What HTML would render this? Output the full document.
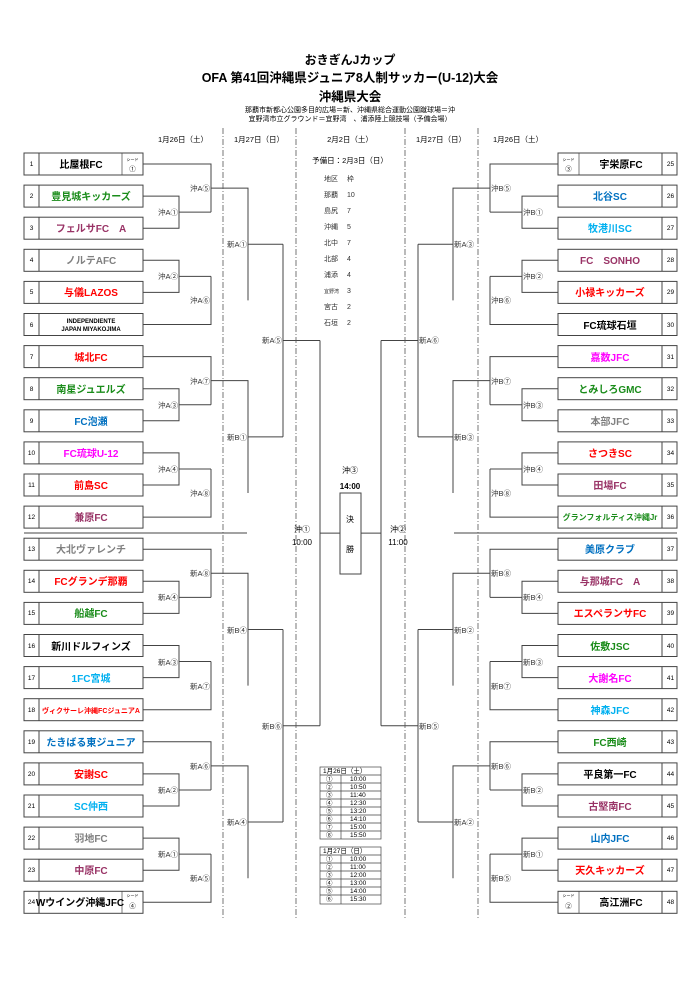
<!DOCTYPE html>
<html><head><meta charset="utf-8"><style>
html,body{margin:0;padding:0;background:#fff}
svg{display:block;font-family:"Liberation Sans","Noto Sans CJK JP",sans-serif}
.t{font-size:10px;font-weight:bold;text-anchor:middle}
.n{font-size:6.5px;text-anchor:middle}
.l{font-size:7.5px;text-anchor:end;fill:#333}
.r{font-size:7.5px;text-anchor:start;fill:#333}
.c{font-size:7px;fill:#333}
.g{fill:#1a8c1a}.p{fill:#993366}.y{fill:#808080}.rd{fill:#ff0000}.b{fill:#0070c0}.cy{fill:#00b0f0}.m{fill:#ff00ff}
</style></head><body>
<svg width="700" height="989" viewBox="0 0 700 989" xmlns="http://www.w3.org/2000/svg">
<defs>
<path id="blk" fill="none" stroke="#444" stroke-width="1" d="M143 0H211V48.15M143 32.1H179V64.2H143M179 48.15H211M143 160.5H211V112.35M143 96.3H179V128.4H143M179 112.35H211M211 24.075H248V136.425M248 80.25H283"/>
<g id="bx" fill="none" stroke="#444" stroke-width="1"><rect x="24" y="-11" width="119" height="22"/><line x1="39" y1="-11" x2="39" y2="11"/></g>
<g id="half">
<use href="#blk" transform="translate(0,164)"/>
<use href="#blk" transform="translate(0,356.6)"/>
<use href="#blk" transform="translate(0,549.2)"/>
<use href="#blk" transform="translate(0,741.8)"/>
<path fill="none" stroke="#444" d="M283 244.25V436.85M283 340.55H320M283 629.45V822.05M283 725.75H320M320 340.55V725.75M320 533.15H340M24 533H247"/>
<use href="#bx" transform="translate(0,164)"/><use href="#bx" transform="translate(0,196.1)"/><use href="#bx" transform="translate(0,228.2)"/><use href="#bx" transform="translate(0,260.3)"/><use href="#bx" transform="translate(0,292.4)"/><use href="#bx" transform="translate(0,324.5)"/><use href="#bx" transform="translate(0,356.6)"/><use href="#bx" transform="translate(0,388.7)"/><use href="#bx" transform="translate(0,420.8)"/><use href="#bx" transform="translate(0,452.9)"/><use href="#bx" transform="translate(0,485)"/><use href="#bx" transform="translate(0,517.1)"/><use href="#bx" transform="translate(0,549.2)"/><use href="#bx" transform="translate(0,581.3)"/><use href="#bx" transform="translate(0,613.4)"/><use href="#bx" transform="translate(0,645.5)"/><use href="#bx" transform="translate(0,677.6)"/><use href="#bx" transform="translate(0,709.7)"/><use href="#bx" transform="translate(0,741.8)"/><use href="#bx" transform="translate(0,773.9)"/><use href="#bx" transform="translate(0,806)"/><use href="#bx" transform="translate(0,838.1)"/><use href="#bx" transform="translate(0,870.2)"/><use href="#bx" transform="translate(0,902.3)"/>
<path fill="none" stroke="#444" stroke-width="0.7" d="M122 153V175M122 891V913"/>
</g>
</defs>
<use href="#half"/>
<use href="#half" transform="matrix(-1 0 0 1 701 0)"/>
<rect x="340" y="493" width="21" height="81" fill="none" stroke="#444"/>
<g stroke="#555" stroke-width="0.8" stroke-dasharray="6 2 1 2"><line x1="223" y1="128" x2="223" y2="920"/><line x1="296" y1="128" x2="296" y2="920"/><line x1="405" y1="128" x2="405" y2="920"/><line x1="478" y1="128" x2="478" y2="920"/></g>

<text x="350" y="64" style="font-size:12px;font-weight:bold;text-anchor:middle">おきぎんJカップ</text>
<text x="350" y="82" style="font-size:12.5px;font-weight:bold;text-anchor:middle">OFA 第41回沖縄県ジュニア8人制サッカー(U-12)大会</text>
<text x="350" y="101" style="font-size:12.5px;font-weight:bold;text-anchor:middle">沖縄県大会</text>
<text x="350" y="112" style="font-size:7px;text-anchor:middle">那覇市新都心公園多目的広場＝新、沖縄県総合運動公園蹴球場＝沖</text>
<text x="350" y="121" style="font-size:7px;text-anchor:middle">宜野湾市立グラウンド＝宜野湾　、浦添陸上競技場（予備会場）</text>

<g style="font-size:7.5px;text-anchor:middle"><text x="183" y="142">1月26日（土）</text><text x="259" y="142">1月27日（日）</text><text x="350" y="142">2月2日（土）</text><text x="441" y="142">1月27日（日）</text><text x="518" y="142">1月26日（土）</text></g>
<text x="350" y="163" style="font-size:7.5px;text-anchor:middle">予備日：2月3日（日）</text>
<g class="c"><text x="324" y="181">地区</text><text x="347" y="181">枠</text>
<text x="324" y="197">那覇</text><text x="347" y="197">10</text>
<text x="324" y="213">島尻</text><text x="347" y="213">7</text>
<text x="324" y="229">沖縄</text><text x="347" y="229">5</text>
<text x="324" y="245">北中</text><text x="347" y="245">7</text>
<text x="324" y="261">北部</text><text x="347" y="261">4</text>
<text x="324" y="277">浦添</text><text x="347" y="277">4</text>
<text x="324" y="293" style="font-size:5px">宜野湾</text><text x="347" y="293">3</text>
<text x="324" y="309">宮古</text><text x="347" y="309">2</text>
<text x="324" y="325">石垣</text><text x="347" y="325">2</text></g>

<g style="font-size:8px;text-anchor:middle"><text x="350" y="473">沖③</text><text x="350" y="489" font-weight="bold">14:00</text><text x="350" y="522">決</text><text x="350" y="552">勝</text>
<text x="302" y="532">沖①</text><text x="302" y="545">10:00</text><text x="398" y="532">沖②</text><text x="398" y="545">11:00</text></g>

<g class="l">
<text x="210" y="191">沖A⑤</text><text x="178" y="215">沖A①</text><text x="178" y="279">沖A②</text><text x="210" y="303">沖A⑥</text><text x="247" y="247">新A①</text>
<text x="210" y="384">沖A⑦</text><text x="178" y="408">沖A③</text><text x="178" y="472">沖A④</text><text x="210" y="496">沖A⑧</text><text x="247" y="440">新B①</text>
<text x="210" y="576">新A⑧</text><text x="178" y="600">新A④</text><text x="178" y="665">新A③</text><text x="210" y="689">新A⑦</text><text x="247" y="633">新B④</text>
<text x="210" y="769">新A⑥</text><text x="178" y="793">新A②</text><text x="178" y="857">新A①</text><text x="210" y="881">新A⑤</text><text x="247" y="825">新A④</text>
<text x="282" y="343">新A⑤</text><text x="282" y="729">新B⑥</text></g>
<g class="r">
<text x="491" y="191">沖B⑤</text><text x="523" y="215">沖B①</text><text x="523" y="279">沖B②</text><text x="491" y="303">沖B⑥</text><text x="454" y="247">新A③</text>
<text x="491" y="384">沖B⑦</text><text x="523" y="408">沖B③</text><text x="523" y="472">沖B④</text><text x="491" y="496">沖B⑧</text><text x="454" y="440">新B③</text>
<text x="491" y="576">新B⑧</text><text x="523" y="600">新B④</text><text x="523" y="665">新B③</text><text x="491" y="689">新B⑦</text><text x="454" y="633">新B②</text>
<text x="491" y="769">新B⑥</text><text x="523" y="793">新B②</text><text x="523" y="857">新B①</text><text x="491" y="881">新B⑤</text><text x="454" y="825">新A②</text>
<text x="419" y="343">新A⑥</text><text x="419" y="729">新B⑤</text></g>

<g class="n">
<text x="31.5" y="166">1</text><text x="31.5" y="198">2</text><text x="31.5" y="230">3</text><text x="31.5" y="262">4</text><text x="31.5" y="294">5</text><text x="31.5" y="327">6</text><text x="31.5" y="359">7</text><text x="31.5" y="391">8</text><text x="31.5" y="423">9</text><text x="31.5" y="455">10</text><text x="31.5" y="487">11</text><text x="31.5" y="519">12</text><text x="31.5" y="551">13</text><text x="31.5" y="583">14</text><text x="31.5" y="615">15</text><text x="31.5" y="648">16</text><text x="31.5" y="680">17</text><text x="31.5" y="712">18</text><text x="31.5" y="744">19</text><text x="31.5" y="776">20</text><text x="31.5" y="808">21</text><text x="31.5" y="840">22</text><text x="31.5" y="872">23</text><text x="31.5" y="904">24</text>
<text x="670.5" y="166">25</text><text x="670.5" y="198">26</text><text x="670.5" y="230">27</text><text x="670.5" y="262">28</text><text x="670.5" y="294">29</text><text x="670.5" y="327">30</text><text x="670.5" y="359">31</text><text x="670.5" y="391">32</text><text x="670.5" y="423">33</text><text x="670.5" y="455">34</text><text x="670.5" y="487">35</text><text x="670.5" y="519">36</text><text x="670.5" y="551">37</text><text x="670.5" y="583">38</text><text x="670.5" y="615">39</text><text x="670.5" y="648">40</text><text x="670.5" y="680">41</text><text x="670.5" y="712">42</text><text x="670.5" y="744">43</text><text x="670.5" y="776">44</text><text x="670.5" y="808">45</text><text x="670.5" y="840">46</text><text x="670.5" y="872">47</text><text x="670.5" y="904">48</text>
<g style="font-size:4px"><text x="132.5" y="161">シード</text><text x="132.5" y="897">シード</text><text x="568.5" y="161">シード</text><text x="568.5" y="897">シード</text></g>
<text x="132.5" y="171">①</text><text x="132.5" y="908">④</text><text x="568.5" y="171">③</text><text x="568.5" y="908">②</text>
</g>

<g class="t">
<text x="81" y="168">比屋根FC</text>
<text x="91" y="200" class="t g">豊見城キッカーズ</text>
<text x="91" y="232" class="t p">フェルサFC　A</text>
<text x="91" y="264" class="t y" font-weight="normal">ノルテAFC</text>
<text x="91" y="296" class="t rd">与儀LAZOS</text>
<text x="91" y="323" style="font-size:6px">INDEPENDIENTE</text><text x="91" y="331" style="font-size:6px">JAPAN MIYAKOJIMA</text>
<text x="91" y="361" class="t rd">城北FC</text>
<text x="91" y="393" class="t g">南星ジュエルズ</text>
<text x="91" y="425" class="t b">FC泡瀬</text>
<text x="91" y="457" class="t m">FC琉球U-12</text>
<text x="91" y="489" class="t rd">前島SC</text>
<text x="91" y="521" class="t p">兼原FC</text>
<text x="91" y="553" class="t y" font-weight="normal">大北ヴァレンチ</text>
<text x="91" y="585" class="t rd">FCグランデ那覇</text>
<text x="91" y="617" class="t g">船越FC</text>
<text x="91" y="650">新川ドルフィンズ</text>
<text x="91" y="682" class="t cy">1FC宮城</text>
<text x="91" y="713" class="t rd" style="font-size:7px">ヴィクサーレ沖縄FCジュニアA</text>
<text x="91" y="746" class="t b">たきばる東ジュニア</text>
<text x="91" y="778" class="t rd">安謝SC</text>
<text x="91" y="810" class="t cy">SC仲西</text>
<text x="91" y="842" class="t y" font-weight="normal">羽地FC</text>
<text x="91" y="874" class="t p">中原FC</text>
<text x="80" y="906">Wウイング沖縄JFC</text>
<text x="621" y="168">宇栄原FC</text>
<text x="610" y="200" class="t b">北谷SC</text>
<text x="610" y="232" class="t cy">牧港川SC</text>
<text x="610" y="264" class="t p">FC　SONHO</text>
<text x="610" y="296" class="t rd">小禄キッカーズ</text>
<text x="610" y="329">FC琉球石垣</text>
<text x="610" y="361" class="t m">嘉数JFC</text>
<text x="610" y="393" class="t g">とみしろGMC</text>
<text x="610" y="425" class="t y" font-weight="normal">本部JFC</text>
<text x="610" y="457" class="t rd">さつきSC</text>
<text x="610" y="489" class="t p">田場FC</text>
<text x="610" y="520" class="t g" style="font-size:8px">グランフォルティス沖縄Jr</text>
<text x="610" y="553" class="t b">美原クラブ</text>
<text x="610" y="585" class="t p">与那城FC　A</text>
<text x="610" y="617" class="t rd">エスペランサFC</text>
<text x="610" y="650" class="t g">佐敷JSC</text>
<text x="610" y="682" class="t m">大謝名FC</text>
<text x="610" y="714" class="t cy">神森JFC</text>
<text x="610" y="746" class="t g">FC西崎</text>
<text x="610" y="778">平良第一FC</text>
<text x="610" y="810" class="t p">古堅南FC</text>
<text x="610" y="842" class="t b">山内JFC</text>
<text x="610" y="874" class="t rd">天久キッカーズ</text>
<text x="621" y="906">高江洲FC</text>
</g>

<g fill="none" stroke="#444" stroke-width="0.7">
<rect x="320" y="767" width="61" height="72"/><line x1="341" y1="775" x2="341" y2="839"/>
<path d="M320 775H381M320 783H381M320 791H381M320 799H381M320 807H381M320 815H381M320 823H381M320 831H381"/>
<rect x="320" y="847" width="61" height="57"/><line x1="341" y1="855" x2="341" y2="904"/>
<path d="M320 855H381M320 863H381M320 871H381M320 879H381M320 887H381M320 895H381"/>
</g>
<g style="font-size:6.5px">
<text x="323" y="773">1月26日（土）</text>
<text x="326" y="781">①</text><text x="350" y="781">10:00</text>
<text x="326" y="789">②</text><text x="350" y="789">10:50</text>
<text x="326" y="797">③</text><text x="350" y="797">11:40</text>
<text x="326" y="805">④</text><text x="350" y="805">12:30</text>
<text x="326" y="813">⑤</text><text x="350" y="813">13:20</text>
<text x="326" y="821">⑥</text><text x="350" y="821">14:10</text>
<text x="326" y="829">⑦</text><text x="350" y="829">15:00</text>
<text x="326" y="837">⑧</text><text x="350" y="837">15:50</text>
<text x="323" y="853">1月27日（日）</text>
<text x="326" y="861">①</text><text x="350" y="861">10:00</text>
<text x="326" y="869">②</text><text x="350" y="869">11:00</text>
<text x="326" y="877">③</text><text x="350" y="877">12:00</text>
<text x="326" y="885">④</text><text x="350" y="885">13:00</text>
<text x="326" y="893">⑤</text><text x="350" y="893">14:00</text>
<text x="326" y="901">⑥</text><text x="350" y="901">15:30</text>
</g>
</svg>
</body></html>
